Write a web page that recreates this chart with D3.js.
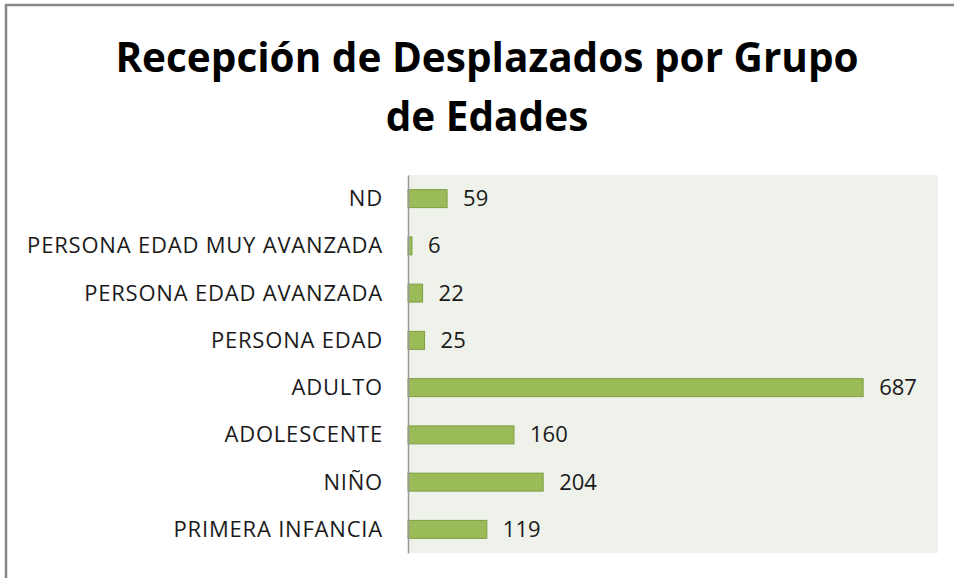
<!DOCTYPE html>
<html>
<head>
<meta charset="utf-8">
<script src="https://cdn.jsdelivr.net/npm/d3@7"></script>
<style>
  body { margin: 0; background: #fff; }
  svg { display: block; font-family: "Open Sans", sans-serif; }
</style>
</head>
<body>
<svg width="954" height="578"></svg>
<script>
'use strict';

/* Data. */
var categories = ['ND', 'PERSONA EDAD MUY AVANZADA', 'PERSONA EDAD AVANZADA',
  'PERSONA EDAD', 'ADULTO', 'ADOLESCENTE', 'NIÑO', 'PRIMERA INFANCIA'];
var values = [59, 6, 22, 25, 687, 160, 204, 119];
var titleLines = ['Recepción de Desplazados por Grupo', 'de Edades'];

var rows = categories.map(function (c, i) { return {name: c, value: values[i]}; });

var svg = d3.select('svg');

/* Frame of the embedded chart. */
svg.append('path')
  .attr('d', 'M6,578V5H954')
  .attr('fill', 'none')
  .attr('stroke', '#888')
  .attr('stroke-width', 2.5);

/* Plot area. */
var plot = {left: 408, right: 938, top: 175, bottom: 553};

var x = d3.scaleLinear().domain([0, 800]).range([plot.left, plot.right]);
var y = d3.scaleBand().domain(categories).range([plot.top, plot.bottom]).paddingInner(0.62).paddingOuter(0.31);

svg.append('rect')
  .attr('x', plot.left)
  .attr('y', plot.top)
  .attr('width', plot.right - plot.left)
  .attr('height', plot.bottom - plot.top)
  .attr('fill', '#eff2ea');

/* Title. */
svg.append('g')
  .selectAll('text')
  .data(titleLines)
  .enter()
  .append('text')
  .attr('x', 487)
  .attr('y', function (d, i) { return 72 + i * 59; })
  .attr('text-anchor', 'middle')
  .attr('font-size', 40.5)
  .attr('font-weight', 'bold')
  .attr('fill', '#000')
  .text(function (d) { return d; });

/* Bars. */
svg.append('g')
  .selectAll('rect')
  .data(rows)
  .enter()
  .append('rect')
  .attr('x', x(0))
  .attr('y', function (d) { return y(d.name); })
  .attr('width', function (d) { return x(d.value) - x(0); })
  .attr('height', y.bandwidth())
  .attr('fill', '#9bbb59')
  .attr('stroke', '#7f9e45')
  .attr('stroke-width', 1);

/* Value labels. */
svg.append('g')
  .selectAll('text')
  .data(rows)
  .enter()
  .append('text')
  .attr('x', function (d) { return x(d.value) + 16; })
  .attr('y', function (d) { return y(d.name) + y.bandwidth() / 2; })
  .attr('dy', '0.34em')
  .attr('font-size', 22)
  .attr('fill', '#1a1a1a')
  .text(function (d) { return d.value; });

/* Category axis. */
var yAxis = svg.append('g')
  .attr('transform', 'translate(' + plot.left + ',0)')
  .call(d3.axisLeft(y).tickSize(0).tickPadding(25));

yAxis.select('.domain').attr('stroke', '#999').attr('stroke-width', 1.5);
yAxis.selectAll('text')
  .attr('font-family', '"Open Sans", sans-serif')
  .attr('font-size', 22)
  .attr('letter-spacing', 0.8)
  .attr('dy', '0.34em')
  .attr('fill', '#1a1a1a');
</script>
</body>
</html>
